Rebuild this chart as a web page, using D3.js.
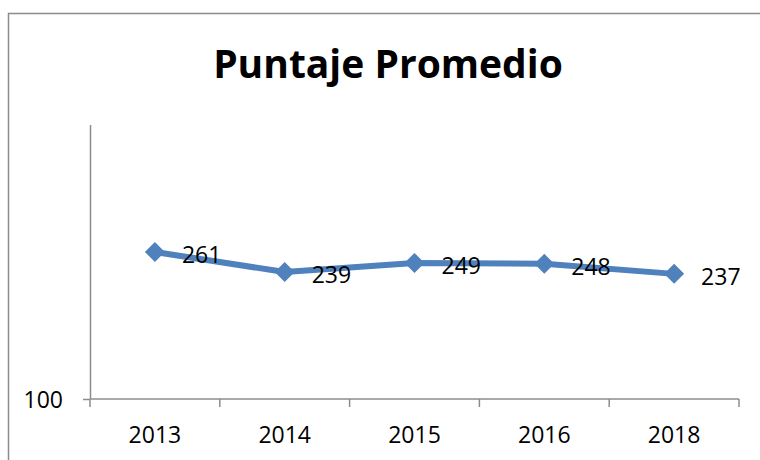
<!DOCTYPE html>
<html>
<head>
<meta charset="utf-8">
<script src="https://cdn.jsdelivr.net/npm/d3@7"></script>
<style>
  body { margin: 0; background: #fff; }
  text { font-family: "Open Sans", "Liberation Sans", sans-serif; fill: #000; }
</style>
</head>
<body>
<svg id="chart" width="760" height="460"></svg>
<script>
const years = ["2013", "2014", "2015", "2016", "2018"];
const scores = [261, 239, 249, 248, 237];
const yTicks = [100];

const svg = d3.select("#chart");
const width = 760, height = 460;
const margin = { top: 125, right: 21, bottom: 61, left: 90 };

// outer frame (only left and top edges visible)
svg.append("path")
    .attr("d", `M8.5,${height} L8.5,13.5 L${width},13.5`)
    .attr("fill", "none")
    .attr("stroke", "#8c8c8c")
    .attr("stroke-width", 1.5);

svg.append("text")
    .attr("x", 388)
    .attr("y", 78)
    .attr("text-anchor", "middle")
    .style("font-size", "39px")
    .style("font-weight", "bold")
    .text("Puntaje Promedio");

const x = d3.scaleBand()
    .domain(years)
    .range([margin.left, width - margin.right]);

const y = d3.scaleLinear()
    .domain([100, 400])
    .range([height - margin.bottom, margin.top]);

// y axis
const yAxis = svg.append("g")
    .attr("transform", `translate(${margin.left},0)`)
    .call(d3.axisLeft(y).tickValues(yTicks).tickSize(7).tickPadding(20));
yAxis.select(".domain").attr("stroke", "#8c8c8c").attr("stroke-width", 1.5)
    .attr("d", `M0.5,${y(400)}V${y(100)}`);
yAxis.selectAll(".tick line").attr("stroke", "#8c8c8c").attr("stroke-width", 1.5);
yAxis.selectAll(".tick text").style("font-size", "23px").attr("dy", "0.35em");

// x axis with ticks between categories
const xAxis = svg.append("g")
    .attr("transform", `translate(0,${y(100)})`);
xAxis.append("line")
    .attr("x1", margin.left).attr("x2", width - margin.right)
    .attr("stroke", "#8c8c8c").attr("stroke-width", 1.5);
const edges = years.map(d => x(d)).concat([x(years[years.length - 1]) + x.bandwidth()]);
xAxis.selectAll(".xtick")
    .data(edges)
    .join("line")
    .attr("class", "xtick")
    .attr("x1", d => d).attr("x2", d => d)
    .attr("y1", 0).attr("y2", 8)
    .attr("stroke", "#8c8c8c").attr("stroke-width", 1.5);
xAxis.selectAll(".xlabel")
    .data(years)
    .join("text")
    .attr("class", "xlabel")
    .attr("x", d => x(d) + x.bandwidth() / 2)
    .attr("y", 44)
    .attr("text-anchor", "middle")
    .style("font-size", "23px")
    .text(d => d);

const pts = years.map((d, i) => ({ year: d, value: scores[i] }));

svg.append("path")
    .datum(pts)
    .attr("fill", "none")
    .attr("stroke", "#4f81bd")
    .attr("stroke-width", 6)
    .attr("stroke-linejoin", "round")
    .attr("d", d3.line()
        .x(d => x(d.year) + x.bandwidth() / 2)
        .y(d => y(d.value)));

svg.selectAll(".marker")
    .data(pts)
    .join("path")
    .attr("class", "marker")
    .attr("transform", d => `translate(${x(d.year) + x.bandwidth() / 2},${y(d.value)})`)
    .attr("d", "M0,-10 L10,0 L0,10 L-10,0 Z")
    .attr("fill", "#4f81bd");

svg.selectAll(".label")
    .data(pts)
    .join("text")
    .attr("class", "label")
    .attr("x", d => x(d.year) + x.bandwidth() / 2 + 27)
    .attr("y", d => y(d.value) + 11)
    .style("font-size", "23px")
    .text(d => d.value);
</script>
</body>
</html>
